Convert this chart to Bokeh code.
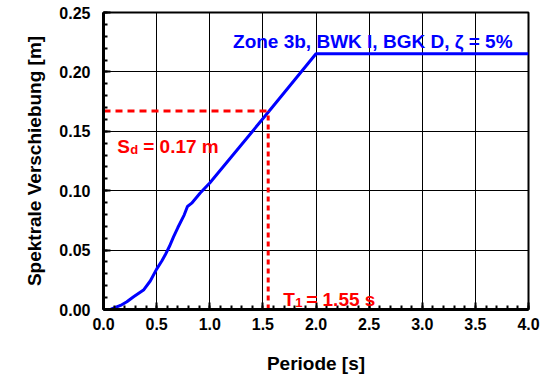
import numpy as np
from bokeh.plotting import figure
from bokeh.models import FixedTicker, NumeralTickFormatter, Label, Range1d
from bokeh.embed import file_html
from bokeh.resources import INLINE

# ---- data ----
period = [0.0, 0.07, 0.16, 0.22, 0.28, 0.38, 0.44, 0.50, 0.55, 0.58, 0.62, 0.66, 0.70, 0.76, 0.79, 0.83, 0.91, 1.00, 1.55, 2.00, 4.00]
sd     = [0.0, 0.0002, 0.0034, 0.0065, 0.0105, 0.0167, 0.0240, 0.0340, 0.0410, 0.0458, 0.0530, 0.0613, 0.0690, 0.0797, 0.0867, 0.0895, 0.0980, 0.1065, 0.1660, 0.2153, 0.2153]

T1 = 1.55
SD1 = 0.167

x_major = [0.0, 0.5, 1.0, 1.5, 2.0, 2.5, 3.0, 3.5, 4.0]
y_major = [0.00, 0.05, 0.10, 0.15, 0.20, 0.25]

title_text = "Zone 3b, BWK I, BGK D, ζ = 5%"
x_label = "Periode [s]"
y_label = "Spektrale Verschiebung [m]"

FONT = "Liberation Sans"

p = figure(width=548, height=377,
           x_range=Range1d(0, 4), y_range=Range1d(0, 0.25),
           output_backend="svg", toolbar_location=None,
           min_border_left=103, min_border_right=20,
           min_border_top=12, min_border_bottom=68,
           background_fill_color="white", border_fill_color="white")

x_minor = list(np.round(np.arange(0, 4.0001, 0.1), 2))
y_minor = list(np.round(np.arange(0, 0.25001, 0.01), 3))

p.xaxis.ticker = FixedTicker(ticks=x_major, minor_ticks=x_minor)
p.yaxis.ticker = FixedTicker(ticks=y_major, minor_ticks=y_minor)
p.xgrid.ticker = FixedTicker(ticks=x_major)
p.ygrid.ticker = FixedTicker(ticks=y_major)
p.xaxis.formatter = NumeralTickFormatter(format="0.0")
p.yaxis.formatter = NumeralTickFormatter(format="0.00")

for g in (p.xgrid, p.ygrid):
    g.grid_line_color = "black"
    g.grid_line_width = 1
    g.grid_line_alpha = 1.0

for ax in (p.xaxis, p.yaxis):
    ax.axis_line_width = 3
    ax.axis_line_color = "black"
    ax.major_tick_in = 7
    ax.major_tick_out = 0
    ax.minor_tick_in = 4
    ax.minor_tick_out = 0
    ax.major_tick_line_width = 2
    ax.minor_tick_line_width = 2
    ax.major_tick_line_color = "black"
    ax.minor_tick_line_color = "black"
    ax.major_label_text_font = FONT
    ax.major_label_text_font_style = "bold"
    ax.major_label_text_font_size = "16px"
    ax.major_label_text_color = "black"
    ax.axis_label_text_font = FONT
    ax.axis_label_text_font_style = "bold"
    ax.axis_label_text_font_size = "19px"
    ax.axis_label_text_color = "black"

p.xaxis.axis_label = x_label
p.yaxis.axis_label = y_label
p.xaxis.major_label_standoff = 8
p.yaxis.major_label_standoff = 13
p.xaxis.axis_label_standoff = 20
p.yaxis.axis_label_standoff = 11

p.outline_line_color = "black"
p.outline_line_width = 2
p.outline_line_alpha = 1.0

# curve
p.line(period, sd, line_color="#0000ff", line_width=3)

# red dashed guide lines
p.line([0, T1], [SD1, SD1], line_color="#ff0000", line_width=3, line_dash="7 5")
p.line([T1, T1], [0, SD1], line_color="#ff0000", line_width=3, line_dash="5 4")

# annotations
p.add_layout(Label(x=3.85, y=0.226, text=title_text, text_align="right",
                   text_baseline="alphabetic", text_color="#0000ff",
                   text_font=FONT, text_font_style="bold", text_font_size="19px"))

def red(x, y, txt, dx=0, dy=0, size="19px"):
    p.add_layout(Label(x=x, y=y, text=txt, x_offset=dx, y_offset=dy,
                       text_align="left", text_baseline="alphabetic",
                       text_color="#ff0000", text_font=FONT,
                       text_font_style="bold", text_font_size=size))

red(0.129, 0.1375, "S")
red(0.129, 0.1375, "d", dx=13, dy=-3, size="13px")
red(0.129, 0.1375, "= 0.17 m", dx=26)

red(1.691, 0.0082, "T")
red(1.691, 0.0082, "1", dx=12, dy=-3, size="13px")
red(1.691, 0.0082, "= 1.55 s", dx=23)

open("out.html", "w").write(file_html(p, INLINE))
